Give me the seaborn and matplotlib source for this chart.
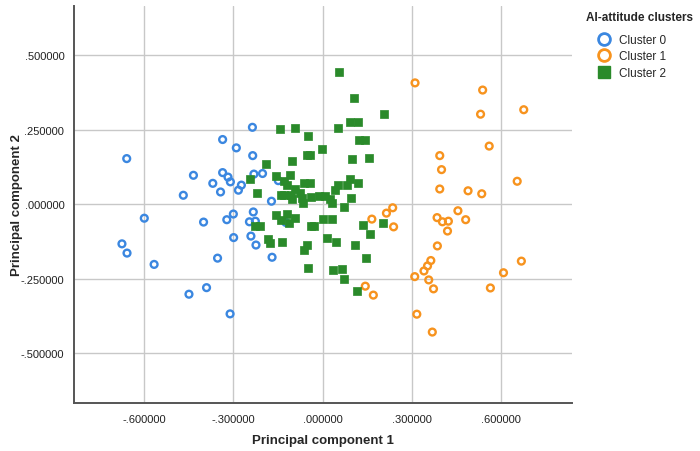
import pandas as pd
import matplotlib
matplotlib.use("Agg")
import matplotlib.pyplot as plt
from matplotlib.ticker import FuncFormatter
from matplotlib.lines import Line2D
import seaborn as sns

# Cluster 0 (blue hollow circles)
pc1_c0 = [-0.658, -0.236, -0.336, -0.290, -0.235, -0.434, -0.336, -0.318, -0.310, -0.369,
          -0.273, -0.283, -0.343, -0.468, -0.231, -0.202, -0.149, -0.172, -0.300, -0.322,
          -0.400, -0.233, -0.246, -0.226, -0.124, -0.299, -0.241, -0.224, -0.353, -0.170,
          -0.566, -0.390, -0.449, -0.674, -0.657, -0.599, -0.311]
pc2_c0 = [0.153, 0.258, 0.217, 0.189, 0.163, 0.097, 0.106, 0.091, 0.075, 0.070,
          0.064, 0.047, 0.041, 0.030, 0.101, 0.103, 0.079, 0.010, -0.033, -0.052,
          -0.060, -0.026, -0.059, -0.057, -0.061, -0.112, -0.107, -0.137, -0.181, -0.178,
          -0.202, -0.280, -0.302, -0.133, -0.164, -0.047, -0.368]

# Cluster 1 (orange hollow circles)
pc1_c1 = [0.310, 0.537, 0.530, 0.675, 0.559, 0.393, 0.399, 0.393, 0.488, 0.534,
          0.653, 0.235, 0.214, 0.165, 0.238, 0.454, 0.384, 0.402, 0.422, 0.480,
          0.419, 0.385, 0.363, 0.352, 0.340, 0.309, 0.356, 0.372, 0.667, 0.607,
          0.563, 0.143, 0.170, 0.316, 0.368]
pc2_c1 = [0.407, 0.383, 0.302, 0.317, 0.195, 0.163, 0.116, 0.051, 0.045, 0.035,
          0.077, -0.012, -0.030, -0.050, -0.076, -0.022, -0.045, -0.059, -0.057, -0.052,
          -0.090, -0.140, -0.189, -0.207, -0.224, -0.243, -0.254, -0.284, -0.191, -0.230,
          -0.281, -0.275, -0.305, -0.369, -0.429]

# Cluster 2 (green squares)
pc1_c2 = [0.056, 0.106, 0.206, 0.090, 0.119, 0.050, -0.094, -0.142, -0.048, 0.123,
          0.141, -0.004, -0.053, -0.043, -0.104, 0.097, 0.155, -0.190, -0.109, -0.157,
          -0.244, -0.131, -0.121, -0.064, -0.044, -0.094, 0.091, 0.120, 0.052, 0.080,
          0.040, -0.219, -0.141, -0.131, -0.106, -0.077, -0.104, -0.068, -0.067, -0.038,
          -0.011, 0.009, 0.026, 0.032, 0.096, 0.072, -0.158, -0.140, -0.120, -0.092,
          -0.112, -0.226, -0.209, -0.185, -0.177, -0.138, -0.053, -0.063, -0.039, -0.028,
          0.002, 0.031, 0.016, 0.045, -0.049, 0.035, 0.064, 0.071, 0.115, 0.134,
          0.203, 0.160, 0.110, 0.145]
pc2_c2 = [0.445, 0.355, 0.302, 0.275, 0.277, 0.254, 0.257, 0.251, 0.229, 0.214,
          0.217, 0.186, 0.165, 0.166, 0.145, 0.150, 0.155, 0.136, 0.097, 0.093,
          0.084, 0.079, 0.064, 0.070, 0.071, 0.051, 0.086, 0.071, 0.065, 0.066,
          0.048, 0.038, 0.031, 0.031, 0.031, 0.037, 0.018, 0.021, 0.004, 0.025,
          0.027, 0.028, 0.018, 0.003, 0.022, -0.010, -0.036, -0.052, -0.033, -0.047,
          -0.063, -0.073, -0.073, -0.117, -0.131, -0.128, -0.136, -0.153, -0.072, -0.072,
          -0.051, -0.048, -0.113, -0.126, -0.214, -0.221, -0.218, -0.250, -0.292, -0.069,
          -0.063, -0.100, -0.136, -0.180]

clusters = ["Cluster 0", "Cluster 1", "Cluster 2"]
colors = {"Cluster 0": "#3b87e0", "Cluster 1": "#f7931e", "Cluster 2": "#2a8a2a"}

df = pd.concat([
    pd.DataFrame({"pc1": pc1_c0, "pc2": pc2_c0, "cluster": "Cluster 0"}),
    pd.DataFrame({"pc1": pc1_c1, "pc2": pc2_c1, "cluster": "Cluster 1"}),
    pd.DataFrame({"pc1": pc1_c2, "pc2": pc2_c2, "cluster": "Cluster 2"}),
], ignore_index=True)

sns.set_style("white")
plt.rcParams["font.family"] = ["Liberation Sans", "DejaVu Sans"]

fig = plt.figure(figsize=(7, 4.52), dpi=100)
ax = fig.add_axes([74 / 700, 1 - 404 / 452, (572 - 74) / 700, (404 - 7) / 452])

# grid behind markers
ax.set_axisbelow(True)
ax.grid(True, color="#c8c8c8", linewidth=1.0)

for c in clusters:
    sub = df[df["cluster"] == c]
    if c == "Cluster 2":
        sns.scatterplot(data=sub, x="pc1", y="pc2", ax=ax, marker="s", s=32,
                        color=colors[c], edgecolor=colors[c], linewidth=0.5, zorder=3)
    else:
        sns.scatterplot(data=sub, x="pc1", y="pc2", ax=ax, marker="o", s=24,
                        facecolor="none", edgecolor=colors[c], linewidth=1.7, zorder=3)

ax.set_xlim(-0.835, 0.837)
ax.set_ylim(-0.667, 0.665)
ax.set_xticks([-0.6, -0.3, 0.0, 0.3, 0.6])
ax.set_yticks([-0.5, -0.25, 0.0, 0.25, 0.5])


def spss_fmt(v, pos):
    s = f"{v:.6f}"
    if s.startswith("-0."):
        s = "-" + s[2:]
    elif s.startswith("0."):
        s = s[1:]
    return s


ax.xaxis.set_major_formatter(FuncFormatter(spss_fmt))
ax.yaxis.set_major_formatter(FuncFormatter(spss_fmt))
ax.tick_params(axis="both", length=0, labelsize=8, colors="#222222")
ax.tick_params(axis="x", pad=8)
ax.tick_params(axis="y", pad=7)

for side in ["top", "right"]:
    ax.spines[side].set_visible(False)
for side in ["left", "bottom"]:
    ax.spines[side].set_color("#555555")
    ax.spines[side].set_linewidth(1.4)

ax.set_xlabel("Principal component 1", fontsize=9.5, fontweight="bold", labelpad=7)
ax.set_ylabel("Principal component 2", fontsize=9.5, fontweight="bold", labelpad=-2)

# legend: title as separate text, entries below it
fig.text(640 / 700, 1 - 18 / 452, "AI-attitude clusters", ha="center", va="center",
         fontsize=8.5, fontweight="bold")
handles = [
    Line2D([], [], linestyle="none", marker="o", markersize=8.5, markerfacecolor="none",
           markeredgecolor=colors["Cluster 0"], markeredgewidth=2),
    Line2D([], [], linestyle="none", marker="o", markersize=8.5, markerfacecolor="none",
           markeredgecolor=colors["Cluster 1"], markeredgewidth=2),
    Line2D([], [], linestyle="none", marker="s", markersize=8.5,
           markerfacecolor=colors["Cluster 2"], markeredgecolor=colors["Cluster 2"]),
]
leg = fig.legend(handles, clusters, loc="upper left",
                 bbox_to_anchor=(597 / 700, 1 - 35 / 452), frameon=False, fontsize=8.5,
                 handletextpad=0.7, labelspacing=0.38, handlelength=1.2,
                 borderaxespad=0, borderpad=0)

fig.savefig("out.png", dpi=100)
